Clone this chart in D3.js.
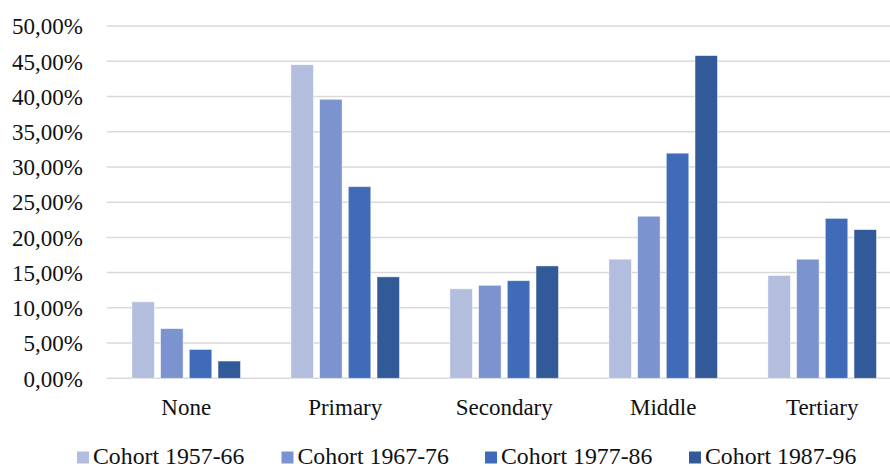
<!DOCTYPE html>
<html>
<head>
<meta charset="utf-8">
<script src="https://cdn.jsdelivr.net/npm/d3@7"></script>
<style>
  html, body { margin: 0; padding: 0; background: #ffffff; }
  svg { display: block; }
</style>
</head>
<body>
<svg id="chart" width="890" height="468"></svg>
<script>
// Education level distribution by birth cohort
const categories = ["None", "Primary", "Secondary", "Middle", "Tertiary"];
const seriesNames = ["Cohort 1957-66", "Cohort 1967-76", "Cohort 1977-86", "Cohort 1987-96"];
const cohort1957 = [10.85, 44.5, 12.7, 16.9, 14.6];
const cohort1967 = [7.05, 39.6, 13.2, 23.0, 16.9];
const cohort1977 = [4.1, 27.2, 13.85, 31.95, 22.7];
const cohort1987 = [2.45, 14.4, 15.95, 45.8, 21.1];
const yTicks = [0, 5, 10, 15, 20, 25, 30, 35, 40, 45, 50];
const colors = ["#b3bedf", "#7b94cf", "#3f6bb8", "#325a99"];

const seriesValues = [cohort1957, cohort1967, cohort1977, cohort1987];
const FONT = "'Liberation Serif'";
const FS = 23;

const svg = d3.select("#chart");
const plotLeft = 106.7, plotRight = 901.7, plotTop = 26, plotBottom = 378.3;

const x0 = d3.scaleBand().domain(categories).range([plotLeft, plotRight]).padding(0);
const x1 = d3.scaleBand().domain(seriesNames).range([-54.3, 54.3]).paddingInner(0.216).paddingOuter(0);
const y = d3.scaleLinear().domain([0, 50]).range([plotBottom, plotTop]);

const fmt = v => d3.format(".2f")(v).replace(".", ",") + "%";

// gridlines
svg.append("g")
  .selectAll("line")
  .data(yTicks)
  .join("line")
  .attr("x1", plotLeft)
  .attr("x2", plotRight)
  .attr("y1", d => y(d))
  .attr("y2", d => y(d))
  .attr("stroke", "#d9d9d9")
  .attr("stroke-width", 1.5);

// y axis tick labels
const yAxis = d3.axisLeft(y).tickValues(yTicks).tickFormat(fmt).tickSize(0).tickPadding(0);
const yg = svg.append("g").attr("transform", "translate(83,0)").call(yAxis);
yg.select(".domain").remove();
yg.selectAll("text")
  .attr("font-family", FONT)
  .attr("font-size", FS)
  .attr("fill", "#111111")
  .attr("dy", "0.34em");

// bars
const groups = svg.append("g")
  .selectAll("g")
  .data(categories)
  .join("g")
  .attr("transform", d => `translate(${x0(d) + x0.bandwidth() / 2},0)`);

groups.selectAll("rect")
  .data((c, ci) => seriesNames.map((s, si) => ({ s, si, v: seriesValues[si][ci] })))
  .join("rect")
  .attr("x", d => x1(d.s))
  .attr("width", x1.bandwidth())
  .attr("y", d => y(d.v))
  .attr("height", d => y(0) - y(d.v))
  .attr("fill", d => colors[d.si])
  .attr("stroke", "#ffffff")
  .attr("stroke-opacity", 0.6)
  .attr("stroke-width", 0.8);

// category axis
const xAxis = d3.axisBottom(x0).tickSize(0).tickPadding(0);
const xg = svg.append("g").attr("transform", `translate(0,${plotBottom})`).call(xAxis);
xg.select(".domain").remove();
xg.selectAll("text")
  .attr("font-family", FONT)
  .attr("font-size", FS)
  .attr("fill", "#111111")
  .attr("y", 37)
  .attr("dy", 0);

// legend
const legendX = [77, 281.5, 485, 689];
const legend = svg.append("g")
  .selectAll("g")
  .data(seriesNames)
  .join("g")
  .attr("transform", (d, i) => `translate(${legendX[i]},0)`);
legend.append("rect")
  .attr("x", 0).attr("y", 451.5)
  .attr("width", 12).attr("height", 12)
  .attr("fill", (d, i) => colors[i]);
legend.append("text")
  .attr("x", 16).attr("y", 463.5)
  .attr("font-family", FONT)
  .attr("font-size", 23.8)
  .attr("fill", "#111111")
  .text(d => d);
</script>
</body>
</html>
